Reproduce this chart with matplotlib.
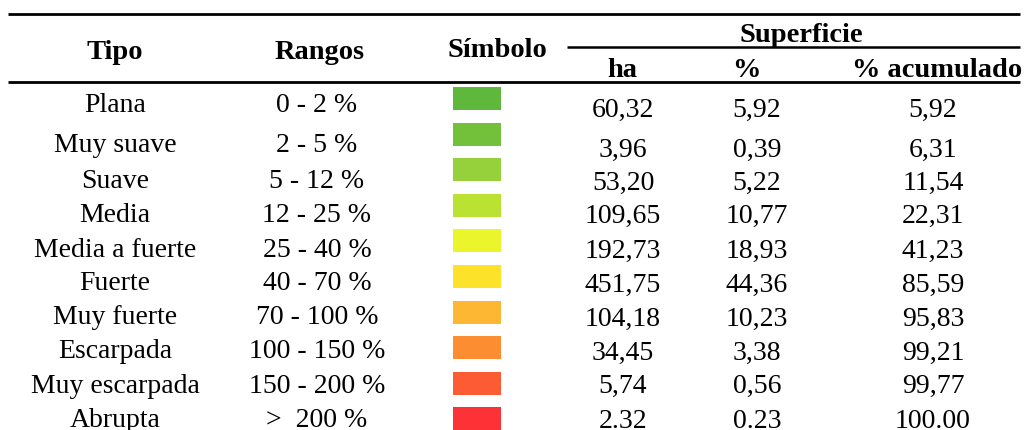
import matplotlib
matplotlib.use("Agg")
import matplotlib.pyplot as plt
from matplotlib.patches import Rectangle

# ---- data ----
tipos = ["Plana", "Muy suave", "Suave", "Media", "Media a fuerte", "Fuerte",
         "Muy fuerte", "Escarpada", "Muy escarpada", "Abrupta"]
rangos = ["0 - 2 %", "2 - 5 %", "5 - 12 %", "12 - 25 %", "25 - 40 %", "40 - 70 %",
          "70 - 100 %", "100 - 150 %", "150 - 200 %", ">  200 %"]
ha = ["60,32", "3,96", "53,20", "109,65", "192,73", "451,75", "104,18", "34,45", "5,74", "2.32"]
pct = ["5,92", "0,39", "5,22", "10,77", "18,93", "44,36", "10,23", "3,38", "0,56", "0.23"]
pct_acum = ["5,92", "6,31", "11,54", "22,31", "41,23", "85,59", "95,83", "99,21", "99,77", "100.00"]
colores = ["#5fb73b", "#73c03a", "#96d03b", "#bae233", "#ebf52c",
           "#fde22a", "#fdb732", "#fd8d31", "#fd5b33", "#fd3237"]

# ---- layout (pixel coordinates) ----
W, H = 1024, 431
base_left = [112, 152, 188, 222, 257, 290, 324, 358, 393, 427]
base_right = [117, 157, 190, 223, 258, 292, 326, 360, 393, 428]
sym_top0, sym_step, sym_h = 88, 35.6, 23
sym_x0, sym_w = 453, 48
x_tipo, x_rango, x_ha, x_pct, x_acum = 115, 317, 623, 757, 933

fig = plt.figure(figsize=(W / 100, H / 100), dpi=100)
ax = fig.add_axes([0, 0, 1, 1])
ax.set_xlim(0, W)
ax.set_ylim(H, 0)
ax.axis("off")

serif = ["Liberation Serif", "DejaVu Serif"]
hfs, dfs = 20.5, 20

def htxt(x, y, s):
    ax.text(x, y, s, ha="center", va="baseline", fontsize=hfs,
            fontweight="bold", family=serif, color="black")

def dtxt(x, y, s):
    ax.text(x, y, s, ha="center", va="baseline", fontsize=dfs,
            family=serif, color="black")

# rules
ax.plot([8, 1020], [15, 15], color="black", lw=2.0, solid_capstyle="butt")
ax.plot([567, 1020], [48, 48], color="black", lw=1.8, solid_capstyle="butt")
ax.plot([8, 1020], [83, 83], color="black", lw=2.0, solid_capstyle="butt")

# header
htxt(115, 59, "Tipo")
htxt(320, 59, "Rangos")
htxt(497, 57, "Símbolo")
htxt(801, 42, "Superficie")
htxt(622, 77, "ha")
htxt(746, 77, "%")
htxt(937, 77, "% acumulado")

# body
for i in range(len(tipos)):
    dtxt(x_tipo, base_left[i], tipos[i])
    dtxt(x_rango, base_left[i], rangos[i])
    dtxt(x_ha, base_right[i], ha[i])
    dtxt(x_pct, base_right[i], pct[i])
    dtxt(x_acum, base_right[i], pct_acum[i])
    ax.add_patch(Rectangle((sym_x0, sym_top0 + i * sym_step), sym_w, sym_h,
                           facecolor=colores[i], edgecolor="none"))

fig.savefig("out.png", dpi=100, facecolor="white")
